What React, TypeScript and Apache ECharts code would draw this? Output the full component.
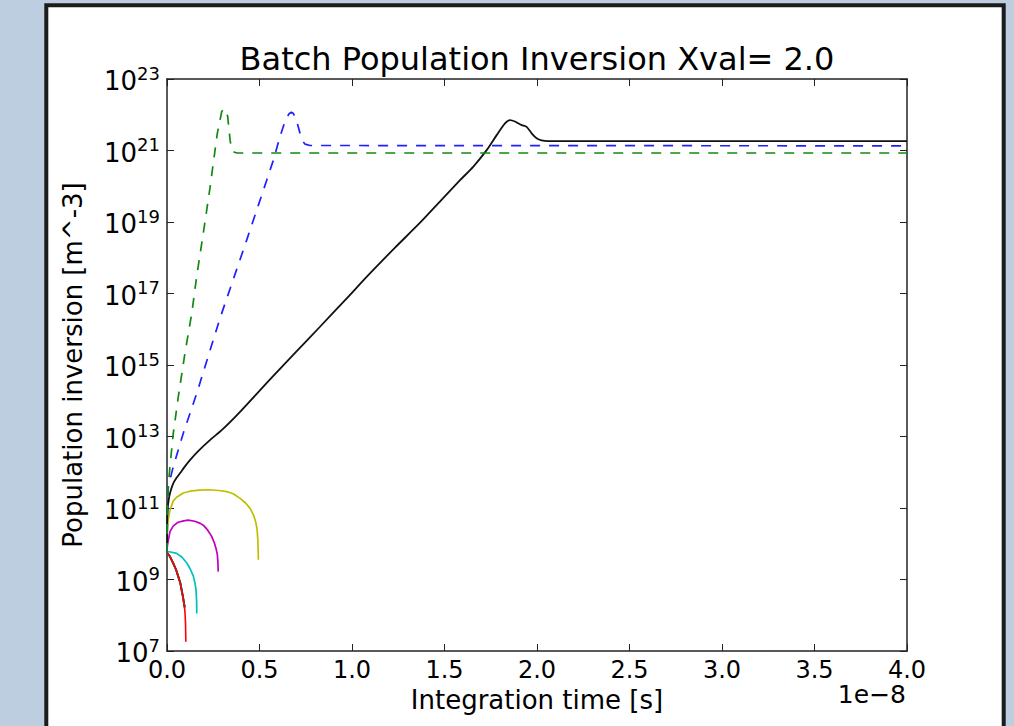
import React, { useEffect, useRef } from "react";
import * as echarts from "echarts";

// x: integration time in units of 1e-8 s ; y: log10 of population inversion [m^-3]
const xTickValues = [0, 0.5, 1.0, 1.5, 2.0, 2.5, 3.0, 3.5, 4.0];
const yTickExponents = [7, 9, 11, 13, 15, 17, 19, 21, 23];

const blueSolid: number[][] = [
  [0, 9.75], [0.015, 9.65], [0.034, 9.45], [0.05, 9.26], [0.061, 9.08], [0.072, 8.9],
  [0.079, 8.71], [0.086, 8.52], [0.092, 8.33], [0.096, 8.22],
];
const greenSolid: number[][] = [
  [0, 9.75], [0.015, 9.65], [0.034, 9.45], [0.05, 9.26], [0.061, 9.08], [0.072, 8.9],
  [0.079, 8.71], [0.086, 8.52], [0.092, 8.33], [0.096, 8.22],
];
const redSolid: number[][] = [
  [0, 9.75], [0.015, 9.65], [0.034, 9.45], [0.05, 9.26], [0.061, 9.08], [0.072, 8.9],
  [0.079, 8.71], [0.086, 8.52], [0.092, 8.33], [0.097, 8.1], [0.1, 7.8], [0.101, 7.5], [0.102, 7.26],
];
const cyanSolid: number[][] = [
  [0, 9.78], [0.02, 9.77], [0.052, 9.73], [0.08, 9.63], [0.106, 9.47], [0.125, 9.3],
  [0.142, 9.1], [0.152, 8.88], [0.157, 8.7], [0.16, 8.4], [0.161, 8.05],
];
const magentaSolid: number[][] = [
  [0, 9.74], [0.002, 9.95], [0.016, 10.34], [0.034, 10.5], [0.06, 10.6], [0.09, 10.64],
  [0.115, 10.66], [0.15, 10.63], [0.18, 10.57], [0.196, 10.52], [0.22, 10.38], [0.24, 10.22],
  [0.255, 10.04], [0.265, 9.87], [0.272, 9.7], [0.275, 9.5], [0.277, 9.22],
];
const yellowSolid: number[][] = [
  [0, 9.74], [0.001, 10.3], [0.005, 10.62], [0.016, 10.94], [0.034, 11.2], [0.052, 11.3],
  [0.088, 11.42], [0.124, 11.47], [0.175, 11.5], [0.223, 11.51], [0.28, 11.49], [0.323, 11.46],
  [0.36, 11.39], [0.395, 11.27], [0.425, 11.14], [0.449, 10.99], [0.468, 10.8], [0.48, 10.6],
  [0.487, 10.4], [0.491, 10.1], [0.493, 9.8], [0.494, 9.55],
];
const blackSolid: number[][] = [
  [0, 9.74], [0.001, 10.45], [0.002, 10.85], [0.006, 11.1], [0.012, 11.32], [0.022, 11.52],
  [0.034, 11.69], [0.05, 11.83], [0.07, 11.97], [0.095, 12.15], [0.124, 12.34], [0.17, 12.6],
  [0.232, 12.9], [0.3, 13.2], [0.4, 13.72], [0.557, 14.6], [0.7, 15.38], [0.827, 16.07],
  [0.96, 16.8], [1.097, 17.56], [1.23, 18.27], [1.368, 18.98], [1.48, 19.6], [1.584, 20.17],
  [1.656, 20.55], [1.728, 21.01], [1.782, 21.43], [1.827, 21.76], [1.854, 21.85], [1.881, 21.81],
  [1.917, 21.71], [1.944, 21.66], [1.971, 21.48], [1.998, 21.34], [2.025, 21.28], [2.06, 21.26],
  [4.0, 21.26],
];
const blueDashed: number[][] = [
  [0, 9.74], [0.002, 10.8], [0.007, 11.6], [0.034, 12.16], [0.088, 13.09], [0.161, 14.21],
  [0.286, 16.3], [0.431, 18.5], [0.539, 20.17], [0.575, 20.73], [0.611, 21.39], [0.64, 21.85],
  [0.66, 22.03], [0.672, 22.07], [0.682, 22.04], [0.692, 21.95], [0.705, 21.75], [0.719, 21.48],
  [0.735, 21.25], [0.746, 21.18], [0.773, 21.14], [4.0, 21.13],
];
const greenDashed: number[][] = [
  [0, 9.74], [0.002, 11.0], [0.007, 11.6], [0.016, 12.16], [0.034, 13.09], [0.061, 14.11],
  [0.097, 15.33], [0.134, 16.45], [0.161, 17.5], [0.196, 18.68], [0.232, 19.94], [0.25, 20.64],
  [0.272, 21.48], [0.296, 22.09], [0.305, 22.15], [0.317, 22.15], [0.328, 21.95], [0.341, 21.29],
  [0.35, 21.01], [0.365, 20.95], [0.38, 20.93], [4.0, 20.93],
];

const FONT = "DejaVu Sans";

function toData(pts: number[][]) {
  return pts.map(([t, e]) => [t, Math.pow(10, e)]);
}

function lineSeries(name: string, pts: number[][], color: string, dashed: boolean, width = 1.7, smooth: number | boolean = false) {
  return {
    name,
    type: "line",
    data: toData(pts),
    showSymbol: false,
    symbol: "none",
    clip: true,
    smooth,
    lineStyle: { color, width, type: dashed ? [10, 9] : "solid" },
    emphasis: { disabled: true },
  };
}

export default function App() {
  const ref = useRef<HTMLDivElement>(null);
  useEffect(() => {
    if (!ref.current) return;
    const chart = echarts.init(ref.current, undefined, { renderer: "svg" });
    // nudge end values just inside the extent so rounding never drops them
    const yCustom = yTickExponents.map((e, i) => {
      const v = Math.pow(10, e);
      if (i === 0) return v * (1 + 1e-9);
      if (i === yTickExponents.length - 1) return v * (1 - 1e-9);
      return v;
    });
    const tickStyle = { color: "#222", width: 1 };
    const axisLineStyle = { color: "#222", width: 1.5 };
    chart.setOption({
      animation: false,
      backgroundColor: "#bdcee0",
      grid: { left: 167, top: 79, right: 107, bottom: 75, containLabel: false },
      graphic: [
        {
          type: "rect",
          z: -100,
          shape: { x: 46.3, y: 5.3, width: 957.4, height: 800 },
          style: { fill: "#ffffff", stroke: "#1c1c1c", lineWidth: 4 },
          silent: true,
        },
        {
          type: "text",
          z: 100,
          x: 537,
          y: 59,
          style: {
            text: "Batch Population Inversion Xval= 2.0",
            fontFamily: FONT,
            fontSize: 32,
            fill: "#000",
            align: "center",
            verticalAlign: "middle",
          },
        },
        {
          type: "text",
          z: 100,
          x: 906,
          y: 694.5,
          style: {
            text: "1e\u22128",
            fontFamily: FONT,
            fontSize: 25,
            fill: "#000",
            align: "right",
            verticalAlign: "middle",
          },
        },
      ],
      xAxis: [
        {
          type: "value",
          min: 0,
          max: 4,
          interval: 0.5,
          position: "bottom",
          name: "Integration time [s]",
          nameLocation: "middle",
          nameGap: 32,
          nameTextStyle: { fontFamily: FONT, fontSize: 26, color: "#000" },
          axisLine: { show: true, onZero: false, lineStyle: axisLineStyle },
          axisTick: { show: true, inside: true, length: 7, lineStyle: tickStyle },
          axisLabel: {
            show: true,
            margin: 7,
            fontFamily: FONT,
            fontSize: 24,
            color: "#000",
            showMinLabel: true,
            showMaxLabel: true,
            formatter: (v: number) => v.toFixed(1),
            customValues: xTickValues,
          },
          splitLine: { show: false },
        },
        {
          type: "value",
          min: 0,
          max: 4,
          interval: 0.5,
          position: "top",
          axisLine: { show: true, onZero: false, lineStyle: axisLineStyle },
          axisTick: { show: true, inside: true, length: 7, lineStyle: tickStyle },
          axisLabel: { show: false },
          splitLine: { show: false },
        },
      ],
      yAxis: [
        {
          type: "log",
          logBase: 10,
          min: 1e7,
          max: 1e23,
          position: "left",
          name: "Population inversion [m^-3]",
          nameLocation: "middle",
          nameGap: 81,
          nameTextStyle: { fontFamily: FONT, fontSize: 26, color: "#000" },
          axisLine: { show: true, onZero: false, lineStyle: axisLineStyle },
          axisTick: { show: true, inside: true, length: 7, lineStyle: tickStyle, customValues: yCustom },
          axisLabel: {
            show: true,
            margin: 7,
            showMinLabel: true,
            showMaxLabel: true,
            hideOverlap: false,
            customValues: yCustom,
            formatter: (v: number) => {
              const e = Math.round(Math.log10(v));
              return "{b|10}{s|" + e + "}";
            },
            rich: {
              b: { fontFamily: FONT, fontSize: 26, lineHeight: 30, verticalAlign: "bottom", color: "#000" },
              s: { fontFamily: FONT, fontSize: 18, verticalAlign: "top", color: "#000" },
            },
          },
          splitLine: { show: false },
          minorTick: { show: false },
        },
        {
          type: "log",
          logBase: 10,
          min: 1e7,
          max: 1e23,
          position: "right",
          axisLine: { show: true, onZero: false, lineStyle: axisLineStyle },
          axisTick: { show: true, inside: true, length: 7, lineStyle: tickStyle, customValues: yCustom },
          axisLabel: { show: false },
          splitLine: { show: false },
          minorTick: { show: false },
        },
      ],
      series: [
        lineSeries("b", blueSolid, "#0000ff", false, 1.9),
        lineSeries("g", greenSolid, "#008000", false, 1.9),
        lineSeries("r", redSolid, "#ff0000", false, 1.6),
        lineSeries("c", cyanSolid, "#00bfbf", false),
        lineSeries("m", magentaSolid, "#bf00bf", false),
        lineSeries("y", yellowSolid, "#bfbf00", false),
        lineSeries("k", blackSolid, "#111111", false, 1.8, 0.25),
        lineSeries("b--", blueDashed, "#2020ff", true),
        lineSeries("g--", greenDashed, "#108a10", true),
      ],
    });
    return () => chart.dispose();
  }, []);
  return (
    <div
      ref={ref}
      style={{ position: "fixed", left: 0, top: 0, width: 1014, height: 726 }}
    />
  );
}
